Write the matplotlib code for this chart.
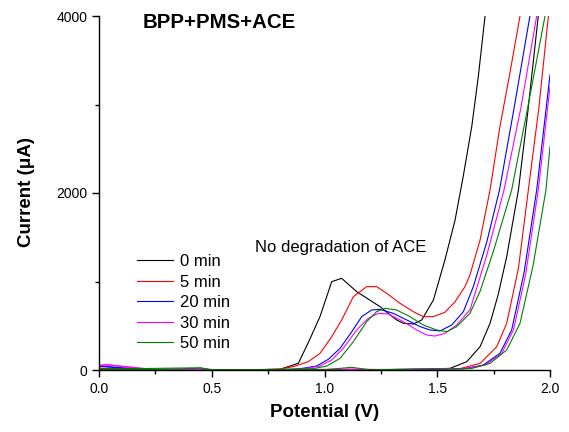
import matplotlib
matplotlib.use("Agg")
import matplotlib.pyplot as plt
from matplotlib.ticker import MultipleLocator

plt.rcParams['font.family'] = ['Liberation Sans', 'DejaVu Sans']

labels = ["0 min", "5 min", "20 min", "30 min", "50 min"]
colors = ["#000000", "#ff0000", "#0000ff", "#ff00ff", "#008000"]

# first sweep (with ACE oxidation peak)
v_peak_0 = [0, 0.1, 0.3, 0.5, 0.7, 0.803, 0.884, 0.93, 0.980, 1.032, 1.076, 1.143, 1.246, 1.320, 1.350, 1.394, 1.431, 1.483, 1.534, 1.579, 1.615, 1.653, 1.682, 1.712]
i_peak_0 = [15, 8, 3, 3, 5, 8, 76, 320, 603, 998, 1036, 885, 716, 565, 527, 520, 565, 791, 1243, 1695, 2185, 2750, 3315, 4000]

v_peak_5 = [0, 0.1, 0.3, 0.5, 0.7, 0.80, 0.862, 0.928, 0.980, 1.028, 1.076, 1.128, 1.187, 1.231, 1.276, 1.335, 1.394, 1.438, 1.483, 1.534, 1.579, 1.623, 1.645, 1.69, 1.734, 1.778, 1.822, 1.867]
i_peak_5 = [20, 10, 3, 3, 3, 10, 38, 94, 188, 360, 565, 829, 942, 942, 866, 753, 659, 603, 603, 652, 772, 942, 1074, 1469, 2034, 2750, 3353, 4000]

v_peak_20 = [0, 0.1, 0.25, 0.5, 0.7, 0.85, 0.906, 0.965, 1.017, 1.069, 1.121, 1.165, 1.209, 1.246, 1.305, 1.365, 1.424, 1.468, 1.512, 1.564, 1.616, 1.66, 1.72, 1.776, 1.84, 1.911]
i_peak_20 = [45, 20, 5, 3, 3, 5, 20, 45, 121, 245, 433, 603, 678, 685, 640, 565, 490, 452, 441, 508, 660, 942, 1450, 2034, 2950, 4000]

v_peak_30 = [0, 0.04, 0.15, 0.25, 0.5, 0.7, 0.9, 0.98, 1.032, 1.083, 1.143, 1.194, 1.239, 1.283, 1.350, 1.409, 1.453, 1.490, 1.534, 1.586, 1.645, 1.72, 1.796, 1.87, 1.941]
i_peak_30 = [50, 56, 25, 5, 3, 3, 10, 45, 113, 245, 452, 584, 640, 633, 546, 452, 395, 384, 414, 508, 678, 1300, 2034, 2950, 4000]

v_peak_50 = [0, 0.2, 0.45, 0.5, 0.7, 0.95, 1.010, 1.069, 1.128, 1.187, 1.231, 1.268, 1.320, 1.379, 1.438, 1.498, 1.542, 1.586, 1.645, 1.69, 1.75, 1.830, 1.90, 1.978]
i_peak_50 = [10, 3, 20, 3, 3, 15, 45, 132, 320, 546, 659, 697, 678, 603, 508, 452, 433, 490, 640, 890, 1350, 2034, 2950, 4000]

# second sweep (baseline, no peak)
v_base_0 = [0, 0.3, 0.6, 0.9, 1.2, 1.45, 1.557, 1.631, 1.69, 1.734, 1.77, 1.808, 1.860, 1.90, 1.948]
i_base_0 = [10, 3, 3, 3, 5, 8, 19, 94, 264, 527, 850, 1280, 2034, 2880, 4000]

v_base_5 = [0, 0.3, 0.6, 0.9, 1.12, 1.3, 1.6, 1.69, 1.764, 1.808, 1.86, 1.904, 1.95, 1.993]
i_base_5 = [20, 3, 3, 5, 10, 3, 15, 75, 264, 527, 1150, 2034, 2950, 4000]

v_base_20 = [0, 0.1, 0.25, 0.6, 1.0, 1.3, 1.62, 1.704, 1.778, 1.830, 1.885, 1.941, 2.0]
i_base_20 = [45, 25, 5, 3, 3, 5, 15, 56, 188, 452, 1100, 2034, 3334]

v_base_30 = [0, 0.04, 0.15, 0.25, 0.6, 1.0, 1.3, 1.63, 1.712, 1.786, 1.838, 1.892, 1.948, 2.0]
i_base_30 = [55, 60, 30, 5, 3, 3, 5, 15, 56, 188, 452, 1080, 2034, 3200]

v_base_50 = [0, 0.45, 0.5, 1.0, 1.12, 1.2, 1.65, 1.734, 1.808, 1.867, 1.925, 1.982, 2.0]
i_base_50 = [10, 25, 3, 3, 30, 3, 15, 75, 226, 527, 1180, 2034, 2523]

peaks = [(v_peak_0, i_peak_0), (v_peak_5, i_peak_5), (v_peak_20, i_peak_20),
         (v_peak_30, i_peak_30), (v_peak_50, i_peak_50)]
bases = [(v_base_0, i_base_0), (v_base_5, i_base_5), (v_base_20, i_base_20),
         (v_base_30, i_base_30), (v_base_50, i_base_50)]

fig = plt.figure(figsize=(5.69, 4.32), dpi=100)
ax = fig.add_axes([99 / 569, 62 / 432, 451 / 569, 354 / 432])

for (vp, ip), (vb, ib), c, lab in zip(peaks, bases, colors, labels):
    ax.plot(vp, ip, color=c, lw=0.8, label=lab)
    ax.plot(vb, ib, color=c, lw=0.8)

ax.set_xlim(0, 2.0)
ax.set_ylim(0, 4000)
ax.xaxis.set_minor_locator(MultipleLocator(0.25))
ax.yaxis.set_major_locator(MultipleLocator(2000))
ax.yaxis.set_minor_locator(MultipleLocator(1000))
ax.set_xticks([0, 0.5, 1.0, 1.5, 2.0])
ax.set_xticklabels(["0.0", "0.5", "1.0", "1.5", "2.0"])
ax.tick_params(which='major', direction='out', length=5, width=1, labelsize=10)
ax.tick_params(which='minor', direction='out', length=3, width=1)
for s in ['top', 'right']:
    ax.spines[s].set_visible(False)
for s in ['left', 'bottom']:
    ax.spines[s].set_linewidth(1.0)

ax.set_xlabel("Potential (V)", fontsize=13.5, fontweight='bold')
ax.set_ylabel("Current (μA)", fontsize=13.5, fontweight='bold')
ax.yaxis.set_label_coords(-0.142, 0.503)
ax.xaxis.set_label_coords(0.5, -0.096)

ax.text(0.0965, 0.966, "BPP+PMS+ACE", transform=ax.transAxes, fontsize=14.7,
        fontweight='bold', va='baseline', ha='left')
ax.text(0.537, 0.345, "No degradation of ACE", transform=ax.transAxes, fontsize=12,
        ha='center', va='center')

leg = ax.legend(loc='upper left', bbox_to_anchor=(0.084, 0.327), frameon=False,
                fontsize=12, handlelength=2.16, handletextpad=0.42, labelspacing=0.33,
                borderpad=0, borderaxespad=0)

fig.savefig("out.png", dpi=100)
